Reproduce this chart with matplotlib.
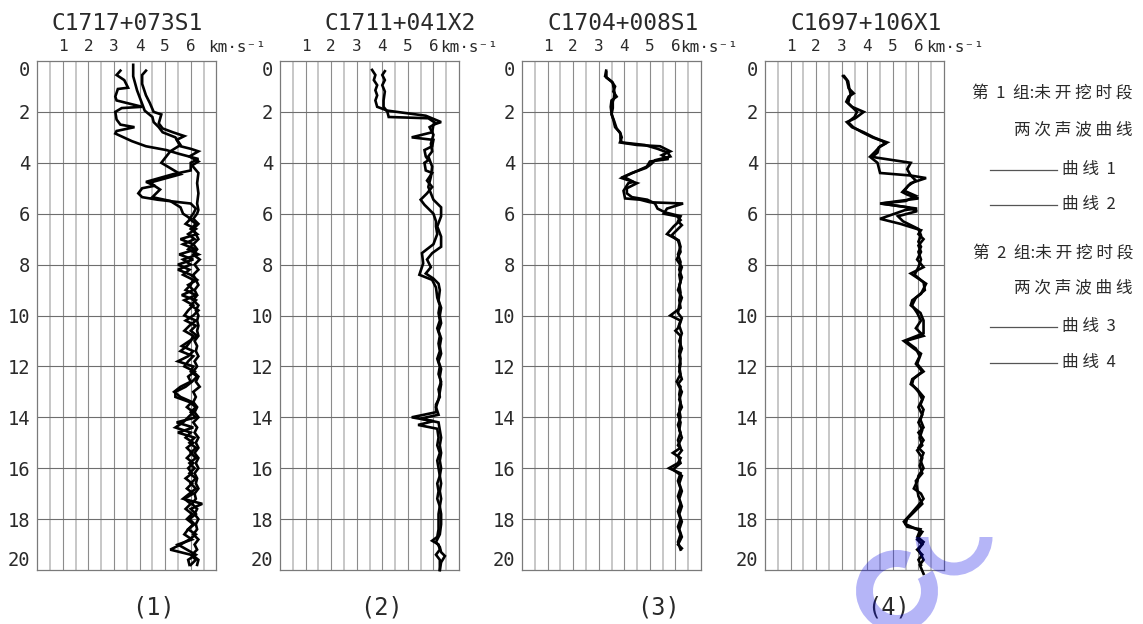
import numpy as np
import matplotlib
matplotlib.use("Agg")
import matplotlib.pyplot as plt
from matplotlib.patches import Wedge
from matplotlib.lines import Line2D

# ---------------- data (velocity km/s vs depth m) ----------------
titles = ["C1717+073S1", "C1711+041X2", "C1704+008S1", "C1697+106X1"]
panel_labels = ["(1)", "(2)", "(3)", "(4)"]
x_ticks = [1, 2, 3, 4, 5, 6]
depth_ticks = [0, 2, 4, 6, 8, 10, 12, 14, 16, 18, 20]
unit_label = "km·s⁻¹"

deep_depth_1 = [6.0, 6.2, 6.4, 6.6, 6.8, 7.0, 7.2, 7.4, 7.6, 7.8, 8.0, 8.2, 8.4, 8.6, 8.8,
                9.0, 9.2, 9.4, 9.6, 9.8, 10.0, 10.2, 10.4, 10.6, 10.8, 11.0, 11.2, 11.4, 11.6, 11.8,
                12.0, 12.2, 12.4, 12.6, 12.8, 13.0, 13.2, 13.4, 13.6, 13.8, 14.0, 14.2, 14.4, 14.6, 14.8,
                15.0, 15.2, 15.4, 15.6, 15.8, 16.0, 16.2, 16.4, 16.6, 16.8, 17.0, 17.2, 17.4, 17.6, 17.8,
                18.0, 18.2, 18.4, 18.6, 18.8, 19.0, 19.2, 19.4, 19.6, 19.8]

p1a_depth = [0.38, 0.55, 0.75, 1.05, 1.1, 1.4, 1.55, 1.8, 1.85, 2.0, 2.3, 2.5, 2.6, 2.75, 2.85,
             3.15, 3.35, 3.5, 3.65, 3.85, 4.0, 4.3, 4.45, 4.75, 4.9, 5.0, 5.2, 5.35, 5.45, 5.6, 5.8] + deep_depth_1
p1a_vel = [3.25, 3.1, 3.4, 3.55, 3.15, 3.05, 3.1, 4.1, 3.3, 3.05, 3.1, 3.25, 3.8, 3.1, 3.05,
           3.7, 4.25, 5.05, 5.55, 6.3, 6.0, 6.0, 5.3, 4.25, 4.6, 4.1, 3.95, 4.1, 4.7, 6.0, 6.2,
           6.1, 5.95, 6.2, 6.0, 6.25, 5.6, 6.1, 5.9, 6.3, 5.7, 6.0, 5.5, 6.0, 6.25, 5.9,
           6.1, 5.65, 6.2, 6.0, 6.3, 6.1, 5.8, 6.2, 6.0, 6.25, 5.95, 5.65, 6.1, 5.9, 5.5,
           6.1, 6.0, 6.25, 6.05, 5.8, 5.4, 5.4, 5.95, 6.2, 6.0, 6.2, 5.45, 6.1, 5.5, 6.15,
           5.95, 6.2, 6.0, 6.2, 5.95, 6.15, 5.95, 6.2, 6.0, 6.2, 5.95, 5.7, 6.45, 6.0, 6.2,
           5.95, 6.15, 5.9, 6.2, 5.95, 5.6, 5.2, 6.0, 6.2, 6.0]

p1b_depth = [0.15, 0.6, 1.15, 1.55, 1.95, 2.2, 2.4, 2.6, 2.8, 3.0, 3.3, 3.55, 4.0, 4.15,
             4.45, 4.78, 5.05, 5.35, 5.5, 5.75] + deep_depth_1
p1b_vel = [3.75, 3.75, 3.9, 4.05, 4.2, 4.5, 4.55, 4.75, 4.9, 5.4, 5.6, 5.2, 4.85, 5.1,
           5.6, 4.4, 4.8, 4.5, 5.2, 5.6,
           5.7, 6.0, 5.8, 6.2, 5.9, 6.15, 5.7, 6.2, 5.55, 6.1, 5.5, 5.95, 5.7, 6.1, 6.0,
           5.8, 6.2, 5.75, 6.1, 5.9, 5.75, 6.2, 5.95, 5.75, 6.1, 6.0, 5.85, 5.6, 6.1, 5.9,
           5.75, 6.15, 5.9, 6.0, 5.6, 5.35, 5.6, 6.05, 5.85, 6.1, 5.9, 5.7, 5.4, 6.0, 5.8,
           6.1, 5.85, 6.05, 5.85, 6.1, 5.9, 6.05, 5.8, 6.05, 5.85, 6.1, 5.75, 6.0, 5.8, 6.05,
           5.85, 6.1, 5.9, 5.75, 6.05, 5.5, 5.85, 6.2, 5.9, 5.95]

p1c_depth = [0.38, 0.55, 0.9, 1.35, 1.65, 2.0, 2.1, 2.45, 2.65, 2.8, 2.95, 3.1, 3.35, 3.45,
             3.55, 3.75, 3.95, 4.1, 4.4, 4.8, 5.2, 5.6, 5.85] + deep_depth_1
p1c_vel = [4.25, 4.1, 4.1, 4.25, 4.4, 4.55, 4.85, 4.75, 4.9, 5.3, 5.75, 5.45, 5.6, 6.0,
           6.3, 5.95, 6.3, 6.05, 6.3, 6.25, 6.3, 6.25, 6.3,
           6.25, 6.1, 6.3, 6.1, 6.2, 6.3, 6.1, 6.25, 6.1, 6.35, 6.15, 6.3, 6.1, 6.2, 6.3,
           6.15, 6.25, 6.1, 6.3, 6.2, 6.3, 6.25, 6.3, 6.25, 6.3, 6.15, 6.25, 6.2, 6.3, 6.15,
           6.25, 6.1, 6.3, 6.2, 6.35, 6.1, 6.2, 6.1, 6.25, 6.15, 6.3, 6.1, 6.25, 6.15, 6.3,
           6.2, 6.3, 6.15, 6.3, 6.2, 6.3, 6.15, 6.25, 6.2, 6.3, 6.15, 6.2, 6.05, 6.25, 6.15,
           6.3, 6.2, 6.25, 6.1, 6.3, 6.15, 6.25, 6.05, 6.3, 6.25]

p2a_depth = [0.35, 0.55, 0.75, 0.95, 1.15, 1.35, 1.55, 1.8, 1.95, 2.15, 2.4, 2.5, 2.8, 3.0, 3.1,
             3.35, 3.5, 3.75, 3.9, 4.0, 4.3, 4.4, 4.7, 4.95, 5.2, 5.45, 5.65, 6.0, 6.3, 6.5,
             6.8, 7.2, 7.55, 7.95, 8.4, 8.6, 8.9, 9.3, 9.6, 9.9, 10.2, 10.5, 10.8, 11.1, 11.4,
             11.7, 12.0, 12.3, 12.6, 12.9, 13.2, 13.5, 13.8, 14.0, 14.15, 14.3, 14.45, 14.8, 15.1,
             15.4, 15.7, 16.0, 16.3, 16.6, 16.9, 17.2, 17.5, 17.8, 18.1, 18.4, 18.7, 18.85, 19.0,
             19.2, 19.4, 19.6, 20.0]
p2a_vel = [3.6, 3.73, 3.67, 3.8, 3.73, 3.8, 3.73, 3.8, 4.2, 5.7, 6.3, 6.0, 5.95, 5.15, 6.0,
           5.95, 5.65, 5.7, 5.8, 5.65, 5.7, 5.95, 5.75, 5.95, 5.75, 5.5, 5.65, 6.0, 6.1, 6.1,
           6.15, 6.0, 5.55, 5.6, 5.45, 5.95, 6.1, 6.15, 6.25, 6.2, 6.25, 6.15, 6.25, 6.2, 6.25,
           6.15, 6.25, 6.2, 6.3, 6.2, 6.25, 6.1, 6.1, 5.15, 6.0, 5.4, 6.15, 6.2, 6.15,
           6.25, 6.15, 6.2, 6.25, 6.15, 6.2, 6.15, 6.25, 6.2, 6.2, 6.2, 6.15, 5.95, 6.2,
           6.25, 6.1, 6.25, 6.25]

p2b_depth = [0.4, 0.55, 0.75, 0.95, 1.2, 1.55, 1.8, 2.0, 2.2, 2.25, 2.45, 2.6, 2.9, 3.25, 3.55,
             3.75, 4.15, 4.55, 4.95, 5.2, 5.45, 5.75, 6.1, 6.5, 6.9, 7.3, 7.55, 7.8, 8.1, 8.35,
             8.55, 8.75, 9.0, 9.4, 9.7, 10.0, 10.3, 10.6, 10.9, 11.2, 11.5, 11.8, 12.1, 12.4, 12.7,
             13.0, 13.3, 13.6, 13.9, 14.05, 14.2, 14.5, 14.8, 15.1, 15.4, 15.7, 16.0, 16.3, 16.6,
             16.9, 17.2, 17.5, 17.8, 18.2, 18.6, 18.9, 19.1, 19.3, 19.45, 19.7, 20.0]
p2b_vel = [4.1, 4.0, 4.1, 4.0, 4.1, 4.05, 4.05, 4.2, 4.25, 5.8, 6.1, 5.85, 6.0, 5.9, 5.95,
           5.8, 5.95, 5.9, 5.8, 5.9, 6.0, 6.3, 6.3, 6.15, 6.3, 6.3, 5.95, 5.75, 5.9, 5.7,
           6.0, 6.2, 6.25, 6.2, 6.3, 6.25, 6.3, 6.2, 6.3, 6.25, 6.3, 6.2, 6.3, 6.25, 6.3,
           6.25, 6.2, 6.1, 6.2, 5.5, 6.2, 6.25, 6.3, 6.25, 6.3, 6.25, 6.3, 6.25, 6.3,
           6.25, 6.3, 6.25, 6.3, 6.3, 6.25, 6.1, 6.25, 6.3, 6.45, 6.3, 6.25]

p3a_depth = [0.38, 0.6, 0.8, 1.0, 1.2, 1.4, 1.55, 1.8, 2.05, 2.3, 2.6, 2.8, 3.0, 3.2, 3.3,
             3.35, 3.55, 3.7, 3.85, 3.95, 4.15, 4.3, 4.55, 4.75, 4.8, 5.1, 5.4, 5.45, 5.55, 5.6,
             5.8, 6.0, 6.1, 6.25, 6.5, 6.8, 7.05, 7.3, 7.6, 7.9, 8.2, 8.5, 8.8, 9.1, 9.4,
             9.7, 10.0, 10.2, 10.5, 10.6, 10.8, 11.1, 11.4, 11.7, 12.0, 12.3, 12.6, 12.8, 13.1,
             13.4, 13.7, 14.0, 14.3, 14.6, 14.9, 15.2, 15.4, 15.6, 15.8, 16.0, 16.2, 16.5, 16.8,
             17.1, 17.4, 17.7, 18.0, 18.3, 18.6, 18.9, 19.2]
p3a_vel = [3.29, 3.25, 3.5, 3.64, 3.57, 3.7, 3.5, 3.47, 3.5, 3.57, 3.64, 3.83, 3.9, 3.83, 4.5,
           5.4, 5.8, 5.47, 5.73, 5.0, 4.88, 4.55, 3.97, 4.36, 4.16, 3.97, 4.03, 4.62, 5.0, 6.3,
           5.67, 5.54, 6.06, 6.2, 5.93, 5.67, 6.13, 6.2, 6.1, 6.2, 6.15, 6.25, 6.15, 6.2, 6.15,
           6.2, 5.8, 6.2, 6.1, 6.0, 6.2, 6.2, 6.15, 6.2, 6.15, 6.2, 6.05, 6.2, 6.15,
           6.2, 6.15, 6.2, 6.1, 6.2, 6.1, 6.2, 5.9, 6.2, 6.1, 5.75, 6.2, 6.1, 6.2,
           6.1, 6.2, 6.1, 6.2, 6.1, 6.2, 6.1, 6.2]

p3b_depth = [0.45, 0.65, 0.85, 1.05, 1.25, 1.45, 1.6, 1.85, 2.1, 2.35, 2.65, 2.85, 3.05, 3.2,
             3.3, 3.45, 3.6, 3.75, 3.9, 4.05, 4.2, 4.4, 4.6, 4.8, 5.0, 5.2, 5.35, 5.45, 5.6,
             5.8, 5.95, 6.1, 6.3, 6.45, 6.7, 6.85, 7.05, 7.2, 7.5, 7.8, 8.1, 8.4, 8.7, 9.0, 9.3,
             9.6, 9.9, 10.1, 10.4, 10.7, 11.0, 11.3, 11.6, 11.9, 12.2, 12.5, 12.7, 13.0, 13.3,
             13.6, 13.9, 14.2, 14.5, 14.8, 15.1, 15.3, 15.5, 15.8, 16.05, 16.3, 16.6, 16.9, 17.2,
             17.5, 17.8, 18.1, 18.4, 18.7, 19.0, 19.15]
p3b_vel = [3.3, 3.3, 3.55, 3.58, 3.62, 3.6, 3.55, 3.55, 3.5, 3.6, 3.7, 3.85, 3.85, 3.9,
           4.8, 5.3, 5.7, 5.8, 5.2, 5.05, 4.85, 4.3, 3.9, 4.5, 4.1, 4.1, 4.3, 4.9, 5.2,
           5.3, 5.6, 6.2, 6.1, 6.25, 6.0, 5.85, 6.1, 6.15, 6.2, 6.05, 6.25, 6.15, 6.2, 6.1, 6.25,
           6.15, 6.1, 6.25, 6.15, 6.25, 6.15, 6.25, 6.15, 6.2, 6.15, 6.25, 6.1, 6.25, 6.15,
           6.25, 6.1, 6.2, 6.15, 6.25, 6.1, 6.25, 6.1, 6.2, 5.9, 6.25, 6.15, 6.25, 6.15,
           6.25, 6.15, 6.25, 6.15, 6.25, 6.1, 6.25]

p4a_depth = [0.59, 0.75, 1.07, 1.27, 1.4, 1.6, 1.8, 2.0, 2.25, 2.4, 2.6, 2.8, 3.0, 3.1, 3.2,
             3.35, 3.55, 3.75, 3.8, 4.0, 4.25, 4.5, 4.6, 4.8, 5.15, 5.25, 5.4, 5.6, 5.8, 5.85,
             6.2, 6.4, 6.65, 6.8, 7.0, 7.25, 7.5, 7.8, 8.1, 8.35, 8.75, 9.15, 9.4, 9.6, 9.9,
             10.2, 10.7, 11.0, 11.3, 11.5, 11.9, 12.2, 12.5, 12.7, 12.9, 13.2, 13.5, 13.7, 14.1,
             14.4, 14.6, 14.9, 15.2, 15.4, 15.7, 16.0, 16.3, 16.5, 16.8, 17.0, 17.2, 17.5, 17.8,
             18.1, 18.3, 18.4, 18.7, 18.9, 19.2, 19.6, 19.8, 20.15]
p4a_vel = [3.05, 3.2, 3.27, 3.47, 3.27, 3.18, 3.4, 3.86, 3.53, 3.2, 3.4, 3.86, 4.25, 4.5, 4.78,
           4.5, 4.32, 4.12, 4.38, 5.7, 5.56, 5.7, 6.3, 5.7, 5.37, 5.56, 6.0, 4.5, 5.95, 5.5,
           4.5, 5.3, 6.1, 6.0, 6.2, 6.0, 6.1, 5.95, 6.2, 5.7, 6.3, 6.1, 5.76, 5.7, 6.08,
           6.2, 6.2, 5.43, 5.82, 6.1, 5.95, 6.2, 5.76, 5.7, 5.95, 6.2, 6.08, 6.2, 6.08,
           6.2, 6.0, 6.2, 6.0, 6.2, 6.08, 6.2, 6.0, 5.96, 5.82, 6.1, 6.2, 5.96, 5.7,
           5.43, 5.56, 6.08, 5.96, 6.2, 6.0, 6.2, 6.05, 6.2]

p4b_depth = [0.6, 0.8, 1.1, 1.3, 1.45, 1.65, 1.85, 2.0, 2.2, 2.4, 2.6, 2.8, 3.0, 3.15, 3.25,
             3.4, 3.6, 3.8, 4.0, 4.2, 4.4, 4.5, 4.7, 4.9, 5.1, 5.3, 5.5, 5.6, 5.75, 5.9,
             6.1, 6.3, 6.6, 6.85, 7.1, 7.3, 7.5, 7.8, 8.1, 8.4, 8.7, 9.0, 9.3, 9.6, 9.9,
             10.2, 10.5, 10.8, 11.0, 11.3, 11.6, 11.9, 12.2, 12.5, 12.7, 13.0, 13.3, 13.6, 13.9,
             14.2, 14.5, 14.8, 15.1, 15.3, 15.6, 15.9, 16.2, 16.5, 16.8, 17.1, 17.4, 17.7, 18.0,
             18.2, 18.5, 18.8, 19.0, 19.2, 19.4, 19.6, 19.8]
p4b_vel = [3.1, 3.25, 3.3, 3.35, 3.3, 3.25, 3.45, 3.6, 3.5, 3.25, 3.45, 3.8, 4.2, 4.6, 4.7,
           4.45, 4.4, 4.15, 4.4, 4.45, 4.5, 5.7, 5.9, 5.6, 5.45, 5.9, 5.5, 4.55, 5.6, 5.95,
           5.2, 5.4, 6.0, 6.1, 6.0, 6.1, 6.0, 6.1, 6.0, 5.85, 6.2, 6.25, 5.9, 5.75, 5.95,
           6.1, 5.9, 6.2, 5.5, 5.9, 6.05, 5.9, 6.15, 5.8, 5.75, 6.0, 6.15, 6.0, 6.15,
           6.0, 6.15, 6.05, 6.15, 5.95, 6.15, 6.05, 6.15, 5.9, 5.95, 6.0, 6.15, 5.85, 5.55,
           5.5, 6.15, 5.95, 6.15, 5.95, 6.15, 6.0, 6.1]

panels = [
    [(p1a_vel, p1a_depth), (p1b_vel, p1b_depth), (p1c_vel, p1c_depth)],
    [(p2a_vel, p2a_depth), (p2b_vel, p2b_depth)],
    [(p3a_vel, p3a_depth), (p3b_vel, p3b_depth)],
    [(p4a_vel, p4a_depth), (p4b_vel, p4b_depth)],
]

legend_group_1 = ["第  1  组:未 开 挖 时 段", "两 次 声 波 曲 线"]
legend_curves_1 = ["曲 线  1", "曲 线  2"]
legend_group_2 = ["第  2  组:未 开 挖 时 段", "两 次 声 波 曲 线"]
legend_curves_2 = ["曲 线  3", "曲 线  4"]

# ---------------- layout (pixels) ----------------
W, H = 1143, 624
fig = plt.figure(figsize=(W / 100, H / 100), dpi=100)
fig.patch.set_facecolor("white")

ax_lefts = [37.3, 280.0, 522.0, 765.0]
ax_width = 179.0
ax_top, ax_bot = 61.0, 570.0
title_cx = [127.5, 400.5, 623.5, 866.0]
label_cx = [153.5, 381.7, 659.0, 888.0]
unit_x = [6.68, 6.25, 6.2, 6.32]

MONO = "DejaVu Sans Mono"
CJK = ["Noto Sans CJK SC", "DejaVu Sans"]
TXT = "#2a2a2a"


def fxy(px, py):
    return px / W, 1 - py / H


for i, curves in enumerate(panels):
    l = ax_lefts[i]
    ax = fig.add_axes([l / W, 1 - ax_bot / H, ax_width / W, (ax_bot - ax_top) / H])
    ax.set_xlim(0, 7)
    ax.set_ylim(20, 0)
    for v in np.arange(0.5, 7.0, 0.5):
        is_int = abs(v - round(v)) < 1e-6
        ax.axvline(v, color="#8c8c8c" if is_int else "#b8b8b8", lw=0.8 if is_int else 1.1, zorder=1)
    for d in range(2, 20, 2):
        ax.axhline(d, color="#6e6e6e", lw=0.8, zorder=1)
    for s in ax.spines.values():
        s.set_color("#7a7a7a")
        s.set_linewidth(0.9)
    ax.xaxis.tick_top()
    ax.set_xticks(x_ticks)
    ax.set_xticklabels([str(t) for t in x_ticks], fontsize=11.5, family=MONO, color=TXT)
    ax.set_yticks(depth_ticks)
    ax.set_yticklabels([str(t) for t in depth_ticks], fontsize=13.5, family=MONO, color=TXT)
    ax.tick_params(axis="x", length=0, pad=5)
    ax.tick_params(axis="y", length=0, pad=5)
    ylabels = ax.get_yticklabels()
    ylabels[0].set_verticalalignment("top")
    ylabels[-1].set_verticalalignment("bottom")

    for vel, dep in curves:
        ax.plot(vel, dep, color="black", lw=1.9, solid_joinstyle="miter", zorder=3, clip_on=False)

    ax.text(unit_x[i], 1 + (ax_top - 47) / (ax_bot - ax_top), unit_label, fontsize=11.5,
            family=MONO, color=TXT, ha="left", va="center", clip_on=False,
            transform=ax.get_xaxis_transform())

    tx, ty = fxy(title_cx[i], 23)
    fig.text(tx, ty, titles[i], fontsize=16.5, family=MONO, color=TXT, ha="center", va="center")
    lx, ly = fxy(label_cx[i], 608)
    fig.text(lx, ly, panel_labels[i], fontsize=17, family=MONO, color=TXT, ha="center", va="center")

# ---------------- legend on right ----------------
def leg_text(px, py, s, ha):
    x, y = fxy(px, py)
    fig.text(x, y, s, fontsize=12, family=CJK, color=TXT, ha=ha, va="center")


def leg_line(py):
    x0, y0 = fxy(990, py)
    x1, _ = fxy(1057, py)
    fig.add_artist(Line2D([x0, x1], [y0, y0], color="#555555", lw=0.9))


leg_text(1133, 93, legend_group_1[0], "right")
leg_text(1133, 130, legend_group_1[1], "right")
leg_line(170)
leg_text(1062, 170, legend_curves_1[0], "left")
leg_line(205)
leg_text(1062, 205, legend_curves_1[1], "left")
leg_text(1133, 253, legend_group_2[0], "right")
leg_text(1133, 288, legend_group_2[1], "right")
leg_line(327)
leg_text(1062, 327, legend_curves_2[0], "left")
leg_line(363)
leg_text(1062, 363, legend_curves_2[1], "left")

# ---------------- watermark overlay ----------------
ov = fig.add_axes([0, 0, 1, 1], zorder=10)
ov.set_xlim(0, W)
ov.set_ylim(0, H)
ov.axis("off")
wm = (0.0, 0.0, 0.9, 0.29)
ov.add_patch(Wedge((897, H - 591), 41, 70, 390, width=17, facecolor=wm, edgecolor="none"))
ov.add_patch(Wedge((954, H - 537), 38.5, 180, 360, width=13, facecolor=wm, edgecolor="none"))

fig.savefig("out.png", dpi=100, facecolor="white")
